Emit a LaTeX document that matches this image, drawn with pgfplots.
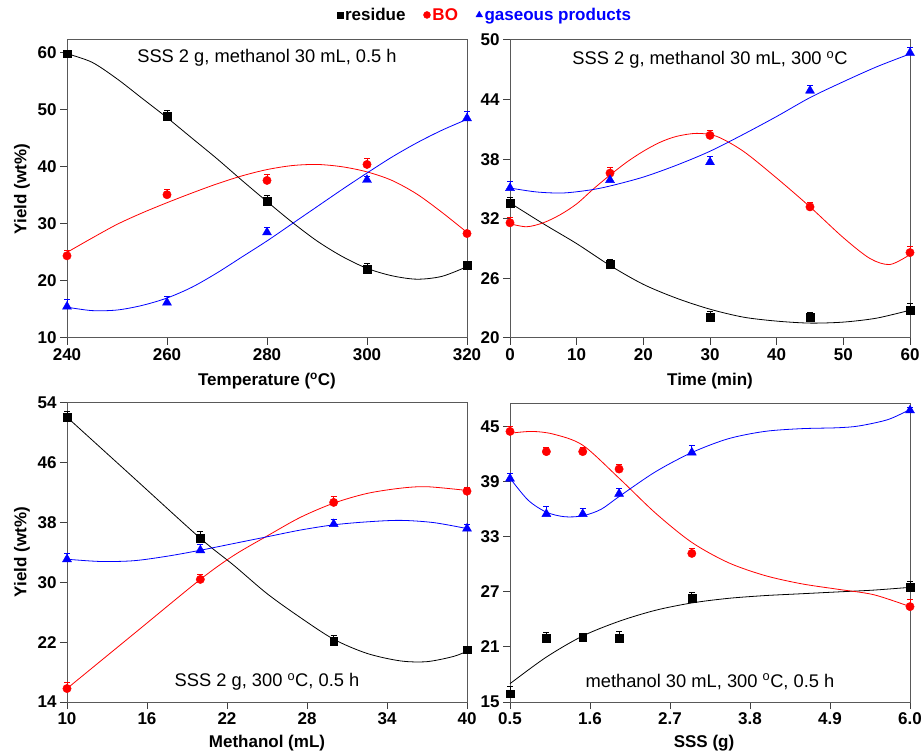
\documentclass[border=0pt]{standalone}
\usepackage{fontspec}
\setmainfont{Liberation Sans}
\usepackage{pgfplots}
\pgfplotsset{compat=1.18}

\newcommand{\fs}{\fontsize{17}{20}\selectfont}
\newcommand{\ft}{\fontsize{18.3}{21}\selectfont}

\pgfplotsset{
  panel/.style={
    scale only axis, width=400pt,
    axis line style={black!65, line width=1pt},
    xtick pos=left, ytick pos=left,
    tick align=outside, major tick length=7pt,
    tick style={black!75, line width=1pt},
    ticklabel style={font=\fs\bfseries},
    /pgf/number format/assume math mode=true,
    clip=false,
  },
  errs/.style={error bars/.cd, y dir=plus, y explicit,
    error bar style={line width=0.8pt},
    error mark options={rotate=90, mark size=3pt, line width=0.8pt},
    /pgfplots/.cd},
  res/.style={only marks, mark=square*, black, mark size=3.9pt, errs},
  bo/.style={only marks, mark=*, red, mark size=4.2pt, errs},
  gas/.style={only marks, mark=triangle*, blue, mark size=5.2pt, errs},
  fit/.style={smooth, tension=0.5, line width=0.8pt, no markers},
}

\begin{document}
\begin{tikzpicture}
\useasboundingbox (0,0) rectangle (923pt,750pt);

% temperature
\begin{axis}[panel, at={(67pt,412pt)}, anchor=south west, height=298pt,
  xmin=240, xmax=320, ymin=10, ymax=62.2,
  xtick={240,260,280,300,320}, ytick={10,20,30,40,50,60},
  legend style={at={(rel axis cs:1.045,1.084)}, anchor=center, draw=none, fill=none,
    legend columns=3, font=\fs\bfseries, inner sep=0pt,
    /tikz/every even column/.append style={column sep=16pt}},
  legend image code/.code={\draw[#1] plot coordinates {(0.3cm,0cm)};},
]
\addlegendimage{mark=square*, black, mark size=3pt}
\addlegendentry{\textcolor{black}{residue}}
\addlegendimage{mark=*, red, mark size=3.5pt}
\addlegendentry{\textcolor{red}{BO}}
\addlegendimage{mark=triangle*, blue, mark size=3.8pt}
\addlegendentry{\textcolor{blue}{gaseous products}}

\addplot[black, fit, forget plot] coordinates {(240,59.8)(245,58.3)(250,55.4)(255,52.0)(260,48.6)(265,45.0)(270,41.4)(275,37.6)(280,33.9)(285,30.3)(290,27.0)(295,24.3)(300,22.2)(305,20.9)(310,20.3)(315,20.8)(320,22.5)};
\addplot[red, fit, forget plot] coordinates {(240,25.0)(245,27.5)(250,29.9)(255,31.9)(260,33.7)(265,35.4)(270,37.0)(275,38.4)(280,39.5)(285,40.2)(290,40.4)(295,40.0)(300,39.1)(305,37.6)(310,35.2)(315,32.0)(320,28.5)};
\addplot[blue, fit, forget plot] coordinates {(240,15.4)(245,14.8)(250,14.9)(255,15.7)(260,17.0)(265,18.9)(270,21.4)(275,24.2)(280,27.0)(285,30.0)(290,33.0)(295,36.0)(300,38.9)(305,41.7)(310,44.2)(315,46.4)(320,48.3)};
\addplot[forget plot, res] coordinates {(240,59.8)+-(0,0.6) (260,48.9)+-(0,1.0) (280,34.0)+-(0,0.9) (300,22.0)+-(0,1.0) (320,22.7)+-(0,0.8)};
\addplot[forget plot, bo] coordinates {(240,24.4)+-(0,1.0) (260,35.1)+-(0,0.9) (280,37.6)+-(0,1.1) (300,40.4)+-(0,1.0) (320,28.3)+-(0,0.5)};
\addplot[forget plot, gas] coordinates {(240,15.5)+-(0,1.2) (260,16.2)+-(0,1.0) (280,28.5)+-(0,0.9) (300,37.7)+-(0,0.6) (320,48.5)+-(0,1.2)};
\node[font=\ft] at (rel axis cs:0.5,0.94) {SSS 2 g, methanol 30 mL, 0.5 h};
\end{axis}

% time
\begin{axis}[panel, at={(510pt,412pt)}, anchor=south west, height=298pt,
  xmin=0, xmax=60, ymin=20, ymax=50,
  xtick={0,10,...,60}, ytick={20,26,32,38,44,50},
]
\addplot[black, fit] coordinates {(0,33.6)(5,31.5)(10,29.5)(15,27.3)(20,25.4)(25,24.0)(30,22.9)(35,22.1)(40,21.7)(45,21.5)(50,21.6)(55,22.0)(60,22.8)};
\addplot[red, fit] coordinates {(0,31.5)(2.5,31.2)(5,31.6)(7.5,32.4)(10,33.5)(12.5,35.0)(15,36.4)(17.5,37.7)(20,38.8)(22.5,39.7)(25,40.3)(28,40.6)(31,40.3)(35,38.8)(40,36.1)(45,33.2)(50,30.1)(54,28.0)(57,27.4)(60,28.4)};
\addplot[blue, fit] coordinates {(0,35.1)(4,34.7)(8,34.6)(12,34.9)(15,35.3)(20,36.2)(25,37.4)(30,38.8)(35,40.5)(40,42.3)(45,44.2)(50,45.8)(55,47.3)(60,48.6)};
\addplot[res] coordinates {(0,33.6)+-(0,0.6) (15,27.4)+-(0,0.5) (30,22.1)+-(0,0.6) (45,22.1)+-(0,0.5) (60,22.8)+-(0,0.7)};
\addplot[bo] coordinates {(0,31.6)+-(0,0.5) (15,36.6)+-(0,0.6) (30,40.4)+-(0,0.5) (45,33.2)+-(0,0.5) (60,28.6)+-(0,0.6)};
\addplot[gas] coordinates {(0,35.1)+-(0,0.7) (15,35.9)+-(0,0.5) (30,37.7)+-(0,0.6) (45,44.9)+-(0,0.5) (60,48.7)+-(0,0.6)};
\node[font=\ft] at (rel axis cs:0.5,0.933) {SSS 2 g, methanol 30 mL, 300 \textsuperscript{o}C};
\end{axis}

% methanol
\begin{axis}[panel, at={(67pt,48pt)}, anchor=south west, height=299pt,
  xmin=10, xmax=40, ymin=14, ymax=54,
  xtick={10,16,...,40}, ytick={14,22,...,54},
]
\addplot[black, fit] coordinates {(10,52.1)(15,44.0)(20,35.9)(22.5,32.3)(25,28.5)(27.5,25.3)(30,22.4)(32.5,20.5)(35,19.5)(37,19.4)(39,20.1)(40,20.8)};
\addplot[red, fit] coordinates {(10,15.8)(15,23.1)(20,30.4)(22.5,33.6)(25,36.2)(27.5,38.7)(30,40.6)(32.5,41.9)(35,42.6)(37,42.8)(40,42.3)};
\addplot[blue, fit] coordinates {(10,33.1)(12.5,32.8)(15,32.9)(17.5,33.5)(20,34.3)(22.5,35.2)(25,36.1)(27.5,37.0)(30,37.7)(32.5,38.1)(35,38.3)(37.5,38.0)(40,37.2)};
\addplot[res] coordinates {(10,52.1)+-(0,0.8) (20,35.9)+-(0,0.9) (30,22.1)+-(0,0.8) (40,21.0)+-(0,0.5)};
\addplot[bo] coordinates {(10,15.8)+-(0,0.8) (20,30.4)+-(0,0.7) (30,40.7)+-(0,0.8) (40,42.2)+-(0,0.5)};
\addplot[gas] coordinates {(10,33.1)+-(0,0.8) (20,34.3)+-(0,0.8) (30,37.8)+-(0,0.6) (40,37.2)+-(0,0.6)};
\node[font=\ft] at (rel axis cs:0.5,0.068) {SSS 2 g, 300 \textsuperscript{o}C, 0.5 h};
\end{axis}

% SSS
\begin{axis}[panel, at={(510pt,48pt)}, anchor=south west, height=299pt,
  xmin=0.5, xmax=6, ymin=15, ymax=47.6,
  xtick={0.5,1.6,2.7,3.8,4.9,6.0}, ytick={15,21,...,45},
  xticklabel style={/pgf/number format/.cd, fixed, fixed zerofill, precision=1},
]
\addplot[black, fit] coordinates {(0.5,17.0)(1,19.9)(1.5,22.2)(2,23.8)(2.5,25.0)(3,25.8)(3.5,26.3)(4,26.6)(4.5,26.8)(5,27.0)(5.5,27.2)(6,27.5)};
\addplot[red, fit] coordinates {(0.5,44.3)(0.8,44.5)(1.1,44.2)(1.5,43.0)(2,39.4)(2.5,35.6)(3,32.4)(3.5,30.2)(4,28.8)(4.5,27.9)(5,27.3)(5.5,26.7)(6,25.4)};
\addplot[blue, fit] coordinates {(0.5,39.4)(0.75,37.0)(1.0,35.7)(1.25,35.2)(1.5,35.3)(1.75,36.0)(2.0,37.4)(2.5,40.1)(3.0,42.2)(3.5,43.7)(4.0,44.5)(4.5,44.8)(5.0,44.9)(5.3,45.1)(5.7,45.8)(6.0,46.9)};
\addplot[res] coordinates {(0.5,15.9)+-(0,0.8) (1,22.0)+-(0,0.6) (1.5,22.1)+-(0,0.3) (2,22.0)+-(0,0.7) (3,26.3)+-(0,0.6) (6,27.5)+-(0,0.7)};
\addplot[bo] coordinates {(0.5,44.5)+-(0,0.5) (1,42.3)+-(0,0.5) (1.5,42.3)+-(0,0.5) (2,40.4)+-(0,0.5) (3,31.2)+-(0,0.6) (6,25.4)+-(0,0.8)};
\addplot[gas] coordinates {(0.5,39.35)+-(0,0.6) (1,35.5)+-(0,0.8) (1.5,35.5)+-(0,0.6) (2,37.7)+-(0,0.6) (3,42.2)+-(0,0.8) (6,46.8)+-(0,0.3)};
\node[font=\ft] at (rel axis cs:0.5,0.068) {methanol 30 mL, 300 \textsuperscript{o}C, 0.5 h};
\end{axis}

% axis titles
\node[font=\fs\bfseries, rotate=90] at (22pt,561pt) {Yield (wt\%)};
\node[font=\fs\bfseries, rotate=90] at (22pt,198pt) {Yield (wt\%)};
\node[font=\fs\bfseries] at (267pt,369pt) {Temperature (\textsuperscript{o}C)};
\node[font=\fs\bfseries] at (710pt,369pt) {Time (min)};
\node[font=\fs\bfseries] at (267pt,7pt) {Methanol (mL)};
\node[font=\fs\bfseries] at (704pt,7pt) {SSS (g)};
\end{tikzpicture}
\end{document}
